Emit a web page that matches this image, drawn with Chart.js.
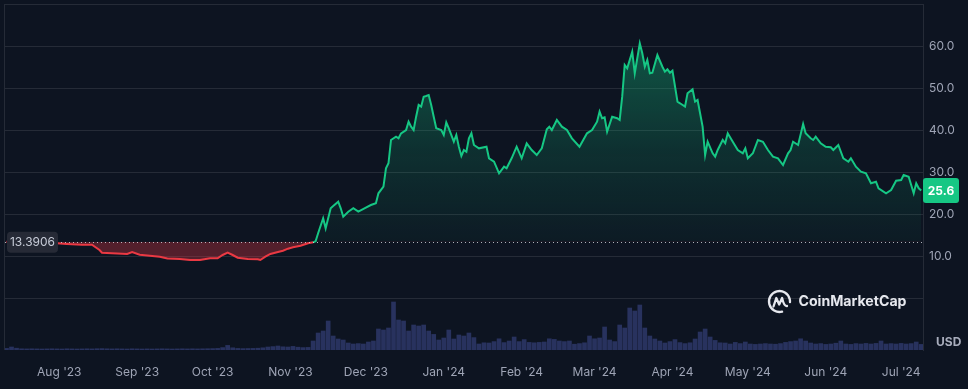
<!DOCTYPE html>
<html>
<head>
<meta charset="utf-8">
<script src="https://cdn.jsdelivr.net/npm/chart.js@4/dist/chart.umd.min.js"></script>
<style>
  html, body { margin: 0; padding: 0; background: #0d1421; }
  #wrap { width: 968px; height: 389px; position: relative; }
</style>
</head>
<body>
<div id="wrap"><canvas id="c" width="968" height="389"></canvas></div>
<script>
// ---------- data ----------
const startDate = '2023-07-11';          // day 0 of the series
const baselinePrice = 13.3906;           // opening price of the period
const lastPrice = 25.6;
const currency = 'USD';

// day offsets from startDate
const priceDays = [0,9,20,24,30,34,37,38,42,48,50,53,58,61,64,69,73,77,81,84,86,88,90,92,96,100,101,103,105,108,110,112,114,117,120,122,123,124,126,127,129,130,132,133,134,136,138,140,143,145,147,148,150,151,152,153,155,156,157,159,160,161,162,163,164,165,166,167,168,169,170,171,173,174,175,176,178,179,180,181,182,183,184,185,186,188,191,192,194,196,198,199,201,203,205,207,209,211,213,215,216,217,219,221,223,225,228,231,233,235,236,237,238,239,241,243,244,245,246,247,249,250,252,253,254,255,256,257,259,261,262,263,264,265,267,268,270,271,273,274,275,277,278,279,281,282,283,285,286,287,289,291,293,294,295,297,299,301,303,305,307,309,311,312,313,315,317,318,320,321,322,324,326,328,329,331,333,335,336,338,340,342,344,346,347,350,352,354,356,357,359,361,362,363,364];
// price in USD
const priceValues = [13.39,13.2,13.02,12.86,12.69,12.69,11.43,10.79,10.64,10.48,10.95,10.31,10.0,9.83,9.4,9.29,9.05,9.05,9.45,9.45,10.24,10.79,10.24,9.6,9.29,9.21,9.05,9.83,10.48,10.95,11.26,11.74,12.07,12.45,13.02,13.26,13.5,15.4,18.98,16.6,21.36,21.9,22.93,21.36,19.36,20.55,21.36,20.55,21.5,22.14,22.55,24.93,26.5,30.88,32.07,37.62,38.4,38.02,39.21,40.0,41.98,40.79,40.0,43.17,45.95,45.55,47.93,48.1,48.33,45.95,43.17,40.4,40.0,38.81,41.83,40.4,37.21,38.81,36.02,33.81,35.24,34.83,38.02,39.21,36.43,35.64,36.02,33.26,32.45,29.69,31.26,30.88,33.26,36.02,33.26,36.83,35.24,34.05,35.64,40.17,40.79,40.0,42.38,40.79,40.0,38.02,36.02,39.21,40.0,41.98,44.36,42.79,43.02,39.6,43.17,42.79,42.38,47.93,55.48,54.69,58.64,53.5,60.64,58.26,55.07,56.67,53.5,53.64,57.86,55.07,53.88,54.45,53.64,54.12,46.74,46.36,45.55,48.74,49.69,46.74,47.14,40.79,34.05,37.21,34.45,33.64,35.24,37.62,36.83,39.21,37.21,35.24,34.45,35.64,33.26,34.45,37.62,37.21,35.24,33.64,33.26,31.67,34.45,35.24,37.21,36.43,41.43,39.21,38.02,37.62,38.4,36.83,36.02,35.88,35.24,36.43,33.26,32.45,33.26,31.26,30.07,29.69,27.31,27.69,26.12,24.93,25.71,27.93,28.1,29.29,28.88,24.93,27.31,26.12,25.6];

// traded volume (million USD), one reading every 2 days starting at day 0
const volumeValues = [80,150,90,60,55,60,55,50,55,60,55,50,60,55,50,55,60,55,65,70,60,55,60,55,50,60,55,50,55,50,55,60,55,50,55,60,55,60,55,60,65,70,80,120,230,110,80,70,75,80,90,110,150,170,200,160,150,180,140,120,130,450,850,950,1450,700,550,500,350,300,320,300,400,450,1050,1000,1100,2400,1500,1450,950,1250,1200,1250,950,780,500,600,1000,550,750,700,850,620,300,360,350,420,560,370,450,650,420,520,380,360,380,400,560,530,450,420,450,290,320,360,700,560,600,1150,500,420,1250,1100,2100,1950,2250,1100,700,550,450,350,420,520,370,320,360,550,900,1050,650,480,360,350,300,380,320,400,300,280,300,320,300,290,320,380,420,450,560,450,350,300,320,280,300,340,450,300,280,320,300,330,300,330,450,300,320,300,330,300,320,400,280];

// x-axis tick labels and their dates
const tickLabels = ["Aug '23","Sep '23","Oct '23","Nov '23","Dec '23","Jan '24","Feb '24","Mar '24","Apr '24","May '24","Jun '24","Jul '24"];
const tickDates  = ['2023-08-01','2023-09-01','2023-10-01','2023-11-01','2023-12-01','2024-01-01','2024-02-01','2024-03-01','2024-04-01','2024-05-01','2024-06-01','2024-07-01'];
const priceTicks = [0,10,20,30,40,50,60,70];

// ---------- helpers ----------
function dayOffset(iso) {
  const [a, b] = [iso, startDate].map(s => { const p = s.split('-').map(Number); return Date.UTC(p[0], p[1]-1, p[2]); });
  return Math.round((a - b) / 864e5);
}
const tickDays = tickDates.map(dayOffset);
const pricePoints = priceDays.map((d, i) => ({ x: d, y: priceValues[i] }));
const volumePoints = volumeValues.map((v, i) => ({ x: i * 2, y: v }));

const GREEN = '#16c784', RED = '#ea3943', GRID = '#252b37', TXT = '#9ea4b5', BG = '#0d1421';
const FONT = 'Inter, "Noto Sans", sans-serif';

function roundRect(ctx, x, y, w, h, r) {
  ctx.beginPath();
  ctx.moveTo(x + r, y); ctx.lineTo(x + w - r, y); ctx.quadraticCurveTo(x + w, y, x + w, y + r);
  ctx.lineTo(x + w, y + h - r); ctx.quadraticCurveTo(x + w, y + h, x + w - r, y + h);
  ctx.lineTo(x + r, y + h); ctx.quadraticCurveTo(x, y + h, x, y + h - r);
  ctx.lineTo(x, y + r); ctx.quadraticCurveTo(x, y, x + r, y); ctx.closePath();
}

const decor = {
  id: 'decor',
  beforeDatasetsDraw(chart) {
    const { ctx, chartArea: a } = chart;
    ctx.save();
    ctx.strokeStyle = GRID; ctx.lineWidth = 1;
    ctx.beginPath(); ctx.moveTo(a.left - 0.5, a.top); ctx.lineTo(a.left - 0.5, a.bottom); ctx.stroke();
    ctx.restore();
  },
  afterDatasetsDraw(chart) {
    const { ctx, chartArea: a, scales } = chart;
    const yb = Math.round(scales.y.getPixelForValue(baselinePrice)) + 0.5;
    ctx.save();
    ctx.strokeStyle = 'rgba(230,232,240,0.75)'; ctx.lineWidth = 1; ctx.setLineDash([1, 3]);
    ctx.beginPath(); ctx.moveTo(a.left, yb); ctx.lineTo(a.right, yb); ctx.stroke();
    ctx.restore();
  },
  afterDraw(chart) {
    const { ctx, chartArea: a, scales } = chart;
    ctx.save();
    // baseline label
    const yb = scales.y.getPixelForValue(baselinePrice);
    ctx.fillStyle = '#262a36';
    roundRect(ctx, 7, yb - 10, 51, 21, 4); ctx.fill();
    ctx.fillStyle = '#c8cdd9'; ctx.font = '12px ' + FONT; ctx.textAlign = 'center'; ctx.textBaseline = 'middle';
    ctx.fillText(baselinePrice.toFixed(4), 32.5, yb + 0.5);
    // last price label
    const yl = scales.y.getPixelForValue(lastPrice);
    ctx.fillStyle = GREEN;
    roundRect(ctx, a.right, yl - 12.5, 36, 25, 3); ctx.fill();
    ctx.fillStyle = '#ffffff'; ctx.font = 'bold 12px ' + FONT;
    ctx.fillText(lastPrice.toFixed(1), a.right + 18, yl + 0.5);
    // currency
    ctx.fillStyle = '#a9aebd'; ctx.font = 'bold 12px ' + FONT; ctx.textAlign = 'left';
    ctx.fillText(currency, 936, 342);
    // logo
    const cx = 779.5, cy = 301.5, r = 10.5;
    ctx.strokeStyle = '#e6e8ee'; ctx.lineWidth = 2.3; ctx.lineCap = 'round'; ctx.lineJoin = 'round';
    ctx.beginPath(); ctx.arc(cx, cy, r, 0.42 * Math.PI, 2.02 * Math.PI); ctx.stroke();
    ctx.beginPath();
    ctx.moveTo(cx - 6, cy + 5);
    ctx.lineTo(cx - 3.2, cy - 3.5);
    ctx.lineTo(cx - 0.3, cy + 3);
    ctx.lineTo(cx + 2.6, cy - 3.5);
    ctx.quadraticCurveTo(cx + 4.5, cy + 5, cx + 7.5, cy + 4.5);
    ctx.stroke();
    const title = 'CoinMarketCap';
    ctx.font = 'bold 15px ' + FONT;
    const w = ctx.measureText(title).width;
    const fs = 15 * 108 / w;
    ctx.font = 'bold ' + fs.toFixed(2) + 'px ' + FONT;
    ctx.fillStyle = '#e6e8ee'; ctx.textAlign = 'left'; ctx.textBaseline = 'middle';
    ctx.fillText(title, 798.5, 302);
    ctx.restore();
  }
};

new Chart(document.getElementById('c'), {
  data: {
    datasets: [
      {
        type: 'line',
        order: 1,
        data: pricePoints,
        yAxisID: 'y',
        borderWidth: 2,
        pointRadius: 0,
        tension: 0,
        borderColor: GREEN,
        segment: {
          borderColor: c => (c.p1.parsed.y < baselinePrice && c.p0.parsed.y <= baselinePrice + 0.2) ? RED : GREEN
        },
        backgroundColor: (c) => {
          const ch = c.chart;
          if (!ch.chartArea) return 'rgba(22,199,132,0.2)';
          const y = ch.scales.y;
          const g = ch.ctx.createLinearGradient(0, y.getPixelForValue(62), 0, y.getPixelForValue(baselinePrice));
          g.addColorStop(0, 'rgba(22,199,132,0.38)');
          g.addColorStop(0.55, 'rgba(22,199,132,0.16)');
          g.addColorStop(1, 'rgba(22,199,132,0.04)');
          return g;
        },
        fill: { target: { value: baselinePrice }, below: 'rgba(234,57,67,0.32)' }
      },
      {
        type: 'bar',
        order: 2,
        data: volumePoints,
        yAxisID: 'yv',
        backgroundColor: 'rgba(68,80,155,0.5)',
        barThickness: 4,
        borderWidth: 0
      }
    ]
  },
  options: {
    responsive: false,
    animation: false,
    events: [],
    layout: { padding: { top: 4, left: 5, right: 0, bottom: 0 } },
    plugins: { legend: { display: false }, tooltip: { enabled: false } },
    scales: {
      x: {
        type: 'linear',
        min: -0.6,
        max: 364.7,
        offset: false,
        grid: { display: false, drawTicks: false },
        border: { display: false },
        afterBuildTicks: s => { s.ticks = tickDays.map(v => ({ value: v })); },
        afterFit: s => { s.height = 39; s.paddingLeft = 0; s.paddingRight = 0; },
        ticks: {
          color: TXT, font: { family: FONT, size: 12 }, padding: 15, maxRotation: 0, autoSkip: false,
          callback: v => { const i = tickDays.indexOf(v); return i >= 0 ? tickLabels[i] : ''; }
        }
      },
      y: {
        type: 'linear',
        position: 'right',
        min: -12.38,
        max: 70,
        grid: { color: GRID, drawTicks: false },
        border: { display: true, color: GRID },
        afterBuildTicks: s => { s.ticks = priceTicks.map(v => ({ value: v })); },
        afterFit: s => { s.width = 45; s.paddingTop = 0; s.paddingBottom = 0; },
        ticks: {
          color: TXT, font: { family: FONT, size: 12 }, padding: 6,
          callback: v => (v > 0 && v < 70) ? v.toFixed(1) : ''
        }
      },
      yv: {
        type: 'linear',
        display: false,
        min: 0,
        max: 17300
      }
    }
  },
  plugins: [decor]
});
</script>
</body>
</html>
